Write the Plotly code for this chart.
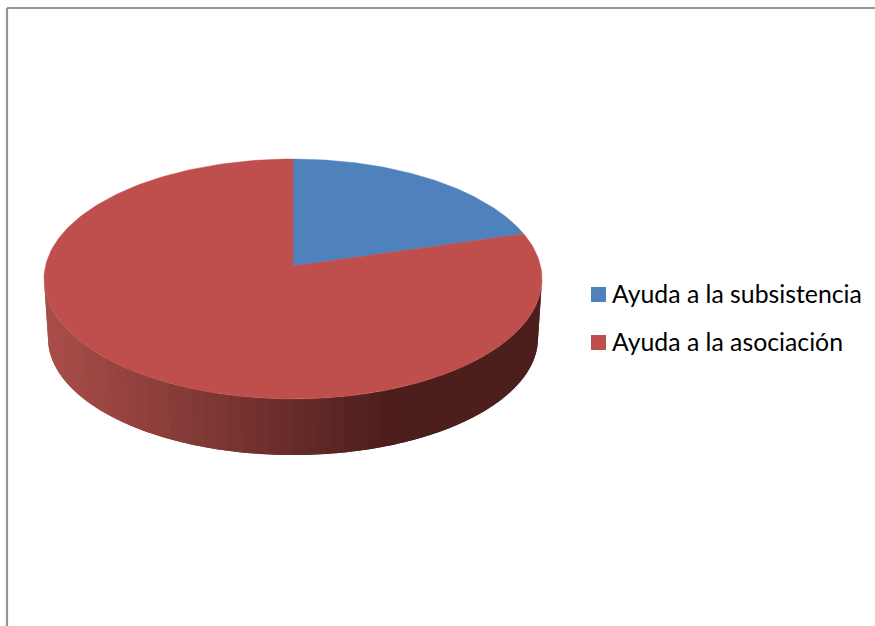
import numpy as np
import plotly.graph_objects as go

categories = ["Ayuda a la subsistencia", "Ayuda a la asociación"]
values = [20.5, 79.5]
colors = ["#4F81BD", "#BE4F4C"]

W, H = 875, 626
CX, APEX_Y = 293, 266      # pie centre as seen in perspective
TOP_REACH, BOTTOM_REACH = 107, 133   # far / near reach of the top face from the apex
HALF_W = 249
RIM_CY = 279
RIM_RY = 120
BASE_CY, BASE_RX, BASE_RY = 338, 245, 117
SIDE_LIGHT = np.array([168, 77, 73])
SIDE_MID = np.array([76, 30, 28])
SIDE_DARK_FROM = 380

k = (BOTTOM_REACH - TOP_REACH) / (BOTTOM_REACH + TOP_REACH)
A = TOP_REACH * (1 + k)
B = HALF_W * np.sqrt(1 - k * k)


def project(theta):
    """Clockwise angle from 12 o'clock on the circular pie -> picture position."""
    X, Y = np.sin(theta), np.cos(theta)
    w = 1 + k * Y
    return CX + B * X / w, APEX_Y - A * Y / w


fig = go.Figure()

# side wall: bands from right to left, each overlapping the one before it
edges = np.linspace(0, np.pi, 61)
step = edges[1] - edges[0]
for t0, t1 in zip(edges[:-1], edges[1:]):
    ts = np.linspace(max(t0 - step, 0), t1, 6)
    xt = CX + HALF_W * np.cos(ts)
    yt = RIM_CY + RIM_RY * np.sin(ts)
    xb = CX + BASE_RX * np.cos(ts)
    yb = BASE_CY + BASE_RY * np.sin(ts)
    xm = CX + HALF_W * np.cos((t0 + t1) / 2)
    f = min(max((xm - 48) / (SIDE_DARK_FROM - 48), 0), 1)
    r, g, b = (SIDE_LIGHT + (SIDE_MID - SIDE_LIGHT) * f).astype(int)
    c = f"rgb({r},{g},{b})"
    fig.add_trace(go.Scatter(
        x=np.r_[xt, xb[::-1], xt[0]], y=np.r_[yt, yb[::-1], yt[0]],
        mode="none", fill="toself", fillcolor=c,
        showlegend=False, hoverinfo="skip"))

# top face
start = 0.0
total = sum(values)
for name, v, col in zip(categories, values, colors):
    th = np.linspace(start, start + 2 * np.pi * v / total, 240)
    px, py = project(th)
    fig.add_trace(go.Scatter(
        x=np.r_[CX, px, CX], y=np.r_[APEX_Y, py, APEX_Y],
        mode="lines", fill="toself", fillcolor=col,
        line=dict(color=col, width=0.5), name=name, showlegend=False,
        hoverinfo="name"))
    start += 2 * np.pi * v / total

# legend key
KEY_X, KEY_Y0, KEY_STEP, TEXT_X = 598.5, 294.5, 48, 612
fig.add_trace(go.Scatter(
    x=[KEY_X] * len(categories),
    y=[KEY_Y0 + i * KEY_STEP for i in range(len(categories))],
    mode="markers", marker=dict(symbol="square", size=15, color=colors),
    showlegend=False, hoverinfo="skip"))
for i, name in enumerate(categories):
    fig.add_annotation(x=TEXT_X, y=KEY_Y0 + i * KEY_STEP, text=name, showarrow=False,
                       xanchor="left", yanchor="middle", xshift=-2, yshift=1,
                       font=dict(family="Lato", size=24.8, color="#000000"))

# outer frame: only top and left edges are in view
for shape in (dict(x0=7, x1=W, y0=8, y1=8), dict(x0=7, x1=7, y0=8, y1=H)):
    fig.add_shape(type="line", line=dict(color="#949494", width=2.2), **shape)

fig.update_layout(
    width=W, height=H, margin=dict(l=0, r=0, t=0, b=0),
    paper_bgcolor="white", plot_bgcolor="white", showlegend=False,
    xaxis=dict(range=[0, W], visible=False, fixedrange=True),
    yaxis=dict(range=[H, 0], visible=False, fixedrange=True),
)
fig.write_html("out.html", config=dict(displayModeBar=False),
               post_script="document.body.style.margin='0';document.body.style.overflow='hidden';")
